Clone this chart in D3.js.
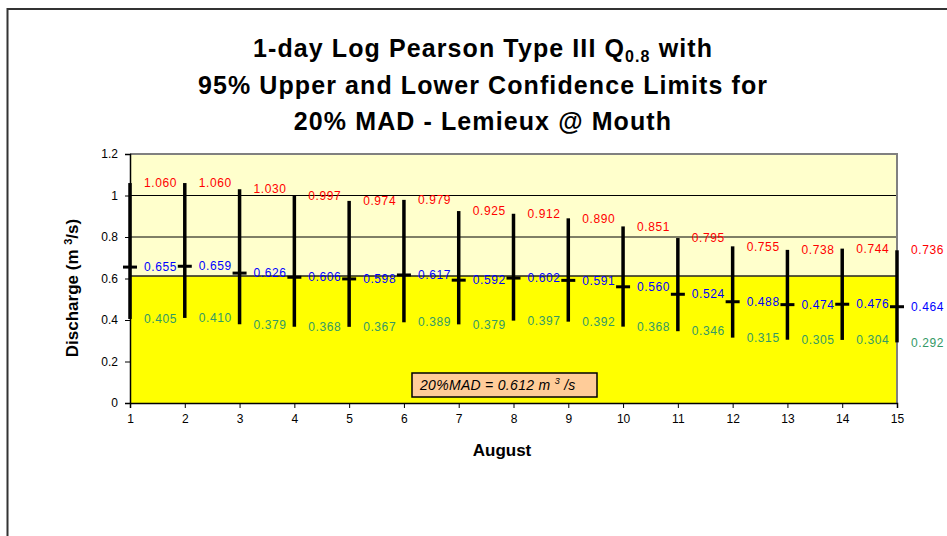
<!DOCTYPE html>
<html>
<head>
<meta charset="utf-8">
<script src="https://cdn.jsdelivr.net/npm/d3@7"></script>
<style>
  body { margin: 0; background: #fff; }
  text { font-family: "Liberation Sans", Arial, sans-serif; }
</style>
</head>
<body>
<script>
// August days and the three series
var days  = [1, 2, 3, 4, 5, 6, 7, 8, 9, 10, 11, 12, 13, 14, 15];
var upper = [1.060, 1.060, 1.030, 0.997, 0.974, 0.979, 0.925, 0.912, 0.890, 0.851, 0.795, 0.755, 0.738, 0.744, 0.736];
var q08   = [0.655, 0.659, 0.626, 0.606, 0.598, 0.617, 0.592, 0.602, 0.591, 0.560, 0.524, 0.488, 0.474, 0.476, 0.464];
var lower = [0.405, 0.410, 0.379, 0.368, 0.367, 0.389, 0.379, 0.397, 0.392, 0.368, 0.346, 0.315, 0.305, 0.304, 0.292];
var mad = 0.612;
var yTicks = [0, 0.2, 0.4, 0.6, 0.8, 1, 1.2];

var width = 947, height = 536;
var plot = {left: 130, right: 897, top: 154, bottom: 403};

var svg = d3.select("body").append("svg")
  .attr("width", width)
  .attr("height", height);

var x = d3.scaleLinear().domain([1, 15]).range([plot.left, plot.right]);
var y = d3.scaleLinear().domain([0, 1.2]).range([plot.bottom, plot.top]);

// chart frame
svg.append("rect")
  .attr("x", 7.5).attr("y", 9)
  .attr("width", 1000).attr("height", 600)
  .attr("fill", "none")
  .attr("stroke", "#333")
  .attr("stroke-width", 2);

// backgrounds: pale above the MAD, yellow below
svg.append("rect")
  .attr("x", x(1)).attr("y", y(1.2))
  .attr("width", x(15) - x(1)).attr("height", y(mad) - y(1.2))
  .attr("fill", "#ffffcc");

svg.append("g").selectAll("line")
  .data(yTicks.filter(function(d) { return d > 0 && d < 1.2; }))
  .enter().append("line")
  .attr("x1", x(1)).attr("x2", x(15))
  .attr("y1", function(d) { return y(d); })
  .attr("y2", function(d) { return y(d); })
  .attr("stroke", "#000")
  .attr("stroke-width", 1);

svg.append("rect")
  .attr("x", x(1)).attr("y", y(mad))
  .attr("width", x(15) - x(1)).attr("height", y(0) - y(mad))
  .attr("fill", "#ffff00");

svg.append("line")
  .attr("x1", x(1)).attr("x2", x(15))
  .attr("y1", y(mad)).attr("y2", y(mad))
  .attr("stroke", "#222")
  .attr("stroke-width", 1.5);

// plot border top / right
svg.append("path")
  .attr("d", "M" + x(1) + "," + y(1.2) + "H" + x(15) + "V" + y(0))
  .attr("fill", "none")
  .attr("stroke", "#808080")
  .attr("stroke-width", 2);

// axes
var yAxis = svg.append("g")
  .attr("transform", "translate(" + x(1) + ",0)")
  .call(d3.axisLeft(y).tickValues(yTicks).tickSize(5).tickPadding(7)
    .tickFormat(d3.format("~g")));

var xAxis = svg.append("g")
  .attr("transform", "translate(0," + y(0) + ")")
  .call(d3.axisBottom(x).tickValues(days).tickSize(5).tickPadding(6)
    .tickFormat(d3.format("d")));

[yAxis, xAxis].forEach(function(a) {
  a.selectAll("text").attr("font-size", 12).attr("fill", "#000")
    .style("font-family", "'Liberation Sans', Arial, sans-serif");
  a.select(".domain").attr("stroke", "#000").attr("stroke-width", 1.5);
  a.selectAll(".tick line").attr("stroke", "#000");
});

// confidence bars
var pts = days.map(function(d, i) {
  return {day: d, hi: upper[i], q: q08[i], lo: lower[i]};
});

svg.append("g").selectAll("line")
  .data(pts).enter().append("line")
  .attr("x1", function(d) { return x(d.day); })
  .attr("x2", function(d) { return x(d.day); })
  .attr("y1", function(d) { return y(d.lo); })
  .attr("y2", function(d) { return y(d.hi); })
  .attr("stroke", "#000")
  .attr("stroke-width", 3.5);

svg.append("g").selectAll("line")
  .data(pts).enter().append("line")
  .attr("x1", function(d) { return x(d.day) - 7; })
  .attr("x2", function(d) { return x(d.day) + 7; })
  .attr("y1", function(d) { return y(d.q); })
  .attr("y2", function(d) { return y(d.q); })
  .attr("stroke", "#000")
  .attr("stroke-width", 3);

// value labels to the right of each bar
var series = [
  {key: "hi", color: "#ff0000"},
  {key: "q",  color: "#0000ff"},
  {key: "lo", color: "#339966"}
];
series.forEach(function(s) {
  svg.append("g").selectAll("text")
    .data(pts).enter().append("text")
    .attr("x", function(d) { return x(d.day) + 14; })
    .attr("y", function(d) { return y(d[s.key]); })
    .attr("dy", "0.35em")
    .attr("font-size", 12)
    .attr("letter-spacing", 0.6)
    .attr("fill", s.color)
    .text(function(d) { return d3.format(".3f")(d[s.key]); });
});

// MAD note
svg.append("rect")
  .attr("x", 412).attr("y", 373)
  .attr("width", 185).attr("height", 24)
  .attr("fill", "#ffcc99")
  .attr("stroke", "#000")
  .attr("stroke-width", 1.5);

var note = svg.append("text")
  .attr("x", 420).attr("y", 390)
  .attr("font-size", 14)
  .attr("font-style", "italic")
  .attr("letter-spacing", 0.3)
  .attr("fill", "#000");
note.append("tspan").text("20%MAD = 0.612 m ");
note.append("tspan").attr("dy", -6).attr("font-size", 9).text("3");
note.append("tspan").attr("dy", 6).text(" /s");

// titles
var title = svg.append("g")
  .attr("font-size", 25)
  .attr("font-weight", "bold")
  .attr("letter-spacing", 1.1)
  .attr("text-anchor", "middle")
  .attr("fill", "#000");

var t1 = title.append("text").attr("x", 483).attr("y", 57);
t1.append("tspan").text("1-day Log Pearson Type III Q");
t1.append("tspan").attr("dy", 5).attr("font-size", 16).text("0.8");
t1.append("tspan").attr("dy", -5).text(" with");
title.append("text").attr("x", 483).attr("y", 94)
  .text("95% Upper and Lower Confidence Limits for");
title.append("text").attr("x", 483).attr("y", 130)
  .text("20% MAD - Lemieux @ Mouth");

// axis titles
var yt = svg.append("text")
  .attr("transform", "translate(78,288) rotate(-90)")
  .attr("text-anchor", "middle")
  .attr("font-size", 17)
  .attr("font-weight", "bold");
yt.append("tspan").text("Discharge (m ");
yt.append("tspan").attr("dy", -6).attr("font-size", 11).text("3");
yt.append("tspan").attr("dy", 6).text("/s)");

svg.append("text")
  .attr("x", 502).attr("y", 456)
  .attr("text-anchor", "middle")
  .attr("font-size", 17)
  .attr("font-weight", "bold")
  .text("August");
</script>
</body>
</html>
